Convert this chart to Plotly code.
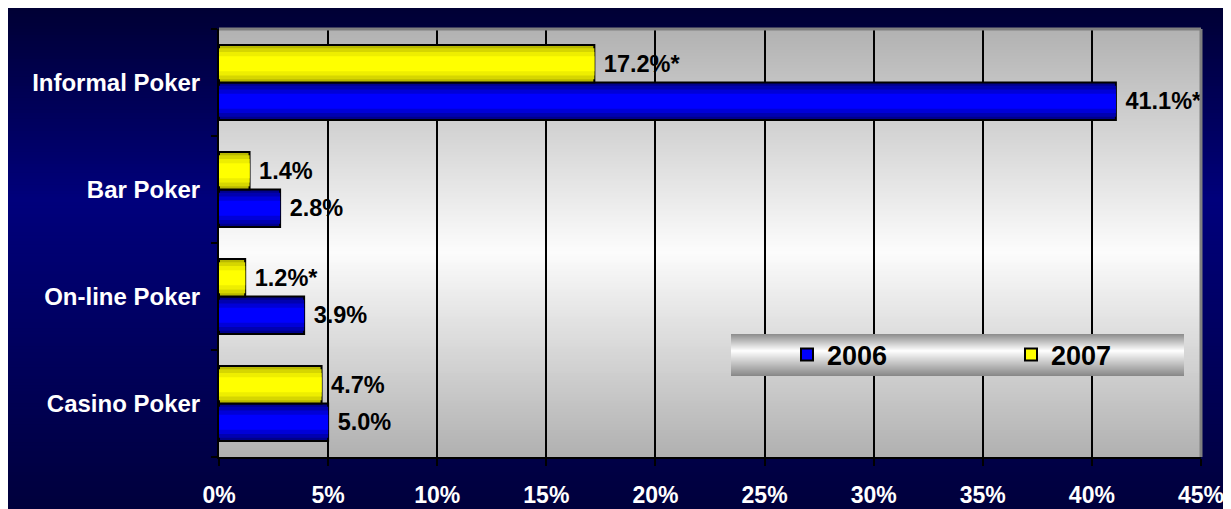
import plotly.graph_objects as go

# data
categories = ["Informal Poker", "Bar Poker", "On-line Poker", "Casino Poker"]
share_2006 = [41.1, 2.8, 3.9, 5.0]
share_2007 = [17.2, 1.4, 1.2, 4.7]
labels_2006 = ["41.1%*", "2.8%", "3.9%", "5.0%"]
labels_2007 = ["17.2%*", "1.4%", "1.2%*", "4.7%"]
x_ticks = [0, 5, 10, 15, 20, 25, 30, 35, 40, 45]
x_tick_labels = ["0%", "5%", "10%", "15%", "20%", "25%", "30%", "35%", "40%", "45%"]

W, H = 1231, 509
L, R, T, B = 211, 38, 21, 60
PW = W - L - R
PH = H - T - B
FONT = "Liberation Sans, Arial, sans-serif"
BAR_W = 0.35


def px_x(px):
    # figure pixel -> paper fraction
    return (px - L) / PW


def px_y(py):
    return (H - B - py) / PH


def mix(stops, f):
    for (f0, c0), (f1, c1) in zip(stops, stops[1:]):
        if f0 <= f <= f1:
            t = 0 if f1 == f0 else (f - f0) / (f1 - f0)
            c = [round(a + (b - a) * t) for a, b in zip(c0, c1)]
            return "rgb(%d,%d,%d)" % tuple(c)
    return "rgb(%d,%d,%d)" % tuple(stops[-1][1])


def strips(x0, x1, y0, y1, stops, n, layer):
    out = []
    for i in range(n):
        a = y0 + (y1 - y0) * i / n
        b = y0 + (y1 - y0) * (i + 1) / n + 1.5
        out.append(dict(type="rect", xref="paper", yref="paper", layer=layer,
                        x0=px_x(x0), x1=px_x(x1), y0=px_y(min(b, y1)), y1=px_y(a),
                        line=dict(width=0), fillcolor=mix(stops, (i + 0.5) / n)))
    return out


shapes = []
# page background: dark navy, brighter a bit above the middle
shapes += strips(0, W, 0, H,
                 [(0, (0, 0, 52)), (0.38, (0, 0, 124)), (1, (0, 0, 58))], 170, "below")
# plot area: gray - white - gray
shapes += strips(L, L + PW, T, H - B,
                 [(0, (178, 178, 178)), (0.52, (252, 252, 252)), (1, (176, 176, 176))], 143, "below")
# legend box
shapes += strips(723, 1176, 326, 368,
                 [(0, (140, 140, 140)), (0.4, (255, 255, 255)), (1, (135, 135, 135))], 42, "above")
# gray frame on top and right of the plot area
shapes.append(dict(type="line", xref="paper", yref="paper", x0=0, x1=1, y0=1, y1=1,
                   line=dict(color="#808080", width=3)))
shapes.append(dict(type="line", xref="paper", yref="paper", x0=1, x1=1, y0=0, y1=1,
                   line=dict(color="#808080", width=3)))

blue_layers = [(0.35, "#00008a"), (0.29, "#0000b0"), (0.22, "#0000d8"), (0.14, "#0000ff")]
yellow_layers = [(0.35, "#b8b800"), (0.29, "#d6d600"), (0.22, "#eeee00"), (0.14, "#ffff00")]

fig = go.Figure()

# legend entries, one per legend so each can be placed freely
fig.add_trace(go.Bar(x=[None], y=[None], orientation="h", name="2006", legend="legend",
                     marker=dict(color="#0000ff", line=dict(color="black", width=2))))
fig.add_trace(go.Bar(x=[None], y=[None], orientation="h", name="2007", legend="legend2",
                     marker=dict(color="#ffff00", line=dict(color="black", width=2))))


def add_series(values, labels, layers, base_offset):
    for i, (w, color) in enumerate(layers):
        first = i == 0
        fig.add_trace(go.Bar(
            x=values, y=categories, orientation="h", showlegend=False,
            width=w, offset=base_offset + (BAR_W - w) / 2,
            marker=dict(color=color,
                        line=dict(color="black", width=2 if first else 0)),
            text=["\u00a0" + s for s in labels] if first else None,
            textposition="outside" if first else "none",
            textfont=dict(family=FONT, size=23.5, color="black", weight="bold"),
            cliponaxis=False, constraintext="none", hoverinfo="skip",
        ))


add_series(share_2006, labels_2006, blue_layers, -BAR_W)
add_series(share_2007, labels_2007, yellow_layers, 0)

legend_style = dict(orientation="h", xanchor="left", yanchor="middle", y=px_y(347),
                    bgcolor="rgba(0,0,0,0)",
                    font=dict(family=FONT, size=27, color="black", weight="bold"))

fig.update_layout(
    width=W, height=H,
    margin=dict(l=L, r=R, t=T, b=B),
    paper_bgcolor="#000050",
    plot_bgcolor="rgba(0,0,0,0)",
    barmode="overlay",
    font=dict(family=FONT, size=23, color="white", weight="bold"),
    shapes=shapes,
    showlegend=True,
    legend=dict(x=px_x(779), **legend_style),
    legend2=dict(x=px_x(1003), **legend_style),
)

fig.update_xaxes(
    range=[0, 45], tickvals=x_ticks, ticktext=x_tick_labels,
    showgrid=True, gridcolor="black", gridwidth=2, zeroline=False,
    showline=True, linecolor="black", linewidth=2,
    ticks="outside", ticklen=7, tickwidth=2, tickcolor="black",
    ticklabelstandoff=9,
    tickfont=dict(family=FONT, size=23, color="white", weight="bold"),
    automargin=False,
)
fig.update_yaxes(
    type="category", categoryorder="array", categoryarray=categories[::-1],
    range=[-0.5, 3.5], showgrid=False, zeroline=False,
    showline=True, linecolor="black", linewidth=2,
    ticks="outside", tickson="boundaries", ticklen=6, tickwidth=2, tickcolor="black",
    ticklabelstandoff=12,
    tickfont=dict(family=FONT, size=24, color="white", weight="bold"),
    automargin=False,
)

fig.write_html("out.html")
